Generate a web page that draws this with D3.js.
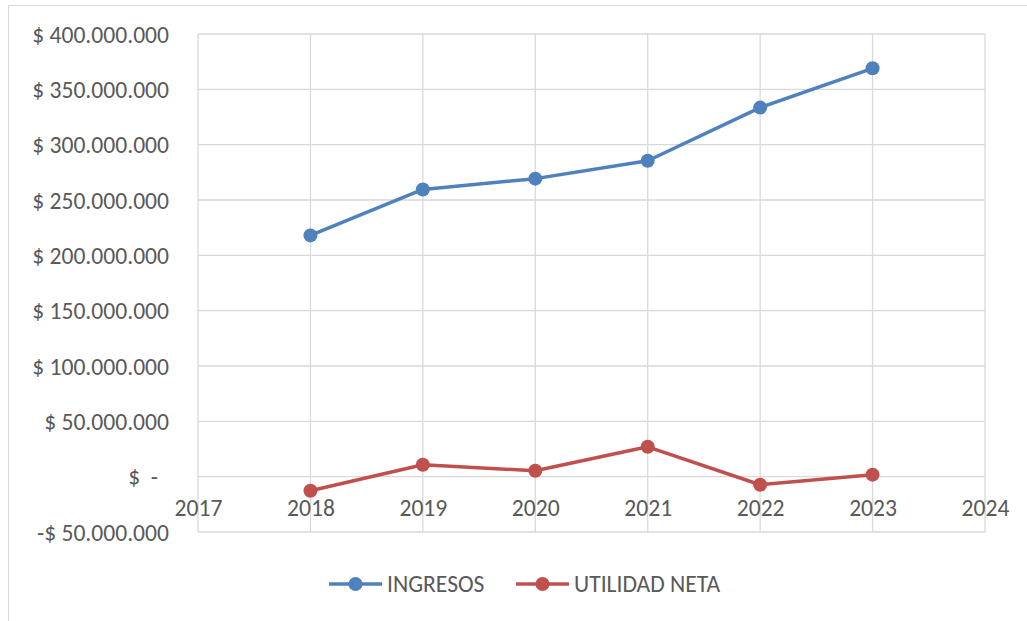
<!DOCTYPE html>
<html><head><meta charset="utf-8">
<script src="https://cdn.jsdelivr.net/npm/d3@7"></script>
<style>body{margin:0;background:#fff;}svg{display:block;}</style>
</head><body>
<svg id="c" width="1027" height="621"></svg>
<script>
const years = [2018, 2019, 2020, 2021, 2022, 2023];
const ingresos = [218000000, 259500000, 269300000, 285500000, 333500000, 369000000];
const utilidad = [-12700000, 10800000, 5300000, 27000000, -7300000, 1800000];
const xTicks = [2017, 2018, 2019, 2020, 2021, 2022, 2023, 2024];
const yTicks = [-50000000, 0, 50000000, 100000000, 150000000, 200000000, 250000000, 300000000, 350000000, 400000000];
const seriesNames = ["INGRESOS", "UTILIDAD NETA"];
const colors = ["#4F81BD", "#C0504D"];

const svg = d3.select("#c");
const font = "Carlito, Calibri, 'Liberation Sans', sans-serif";
const fs = 23.6;
const L = 198, R = 985, T = 34, B = 532;
const x = d3.scaleLinear().domain([2017, 2024]).range([L, R]);
const y = d3.scaleLinear().domain([-50000000, 400000000]).range([B, T]);

// outer chart border
svg.append("rect").attr("x", 8.5).attr("y", 5.5).attr("width", 1040).attr("height", 640)
  .attr("fill", "none").attr("stroke", "#d9d9d9").attr("stroke-width", 1);

const grid = svg.append("g").attr("stroke", "#d9d9d9").attr("stroke-width", 1.3);
xTicks.forEach(t => grid.append("line").attr("x1", x(t)).attr("x2", x(t)).attr("y1", T).attr("y2", B));
yTicks.forEach(t => grid.append("line").attr("x1", L).attr("x2", R).attr("y1", y(t)).attr("y2", y(t)));

const fmt = v => {
  if (v === 0) return "$  -";
  const s = d3.format(",")(Math.abs(v)).replace(/,/g, ".");
  return (v < 0 ? "-$ " : "$ ") + s;
};
// y axis labels
const yAxis = d3.axisLeft(y).tickValues(yTicks).tickFormat(fmt).tickSize(0).tickPadding(0);
const yg = svg.append("g").attr("transform", `translate(${169},0)`).call(yAxis);
yg.select(".domain").remove();
yg.selectAll("text").attr("font-family", font).attr("font-size", fs).attr("fill", "#595959")
  .attr("dy", "0.35em").style("white-space", "pre")
  .attr("dx", d => d === 0 ? -11 : 0);

// x axis labels at zero line
const xAxis = d3.axisBottom(x).tickValues(xTicks).tickFormat(d3.format("d")).tickSize(0).tickPadding(0);
const xg = svg.append("g").attr("transform", `translate(0,${y(0)})`).call(xAxis);
xg.select(".domain").remove();
xg.selectAll("text").attr("font-family", font).attr("font-size", fs).attr("fill", "#595959")
  .attr("y", 31).attr("dy", "0.35em");

const line = d3.line().x((d, i) => x(years[i])).y(d => y(d));
[ingresos, utilidad].forEach((vals, k) => {
  svg.append("path").attr("d", line(vals)).attr("fill", "none")
    .attr("stroke", colors[k]).attr("stroke-width", 3.5).attr("stroke-linejoin", "round");
  svg.append("g").selectAll("circle").data(vals).join("circle")
    .attr("cx", (d, i) => x(years[i])).attr("cy", d => y(d)).attr("r", 7).attr("fill", colors[k]);
});

// legend
const legendX = [329, 516];
seriesNames.forEach((n, k) => {
  const g = svg.append("g").attr("transform", `translate(${legendX[k]},584)`);
  g.append("line").attr("x1", 0).attr("x2", 53).attr("y1", 0).attr("y2", 0)
    .attr("stroke", colors[k]).attr("stroke-width", 3.5);
  g.append("circle").attr("cx", 26.5).attr("cy", 0).attr("r", 7).attr("fill", colors[k]);
  g.append("text").attr("x", 58).attr("y", 0).attr("dy", "0.35em").text(n)
    .attr("font-family", font).attr("font-size", fs).attr("fill", "#595959");
});
</script>
</body></html>
